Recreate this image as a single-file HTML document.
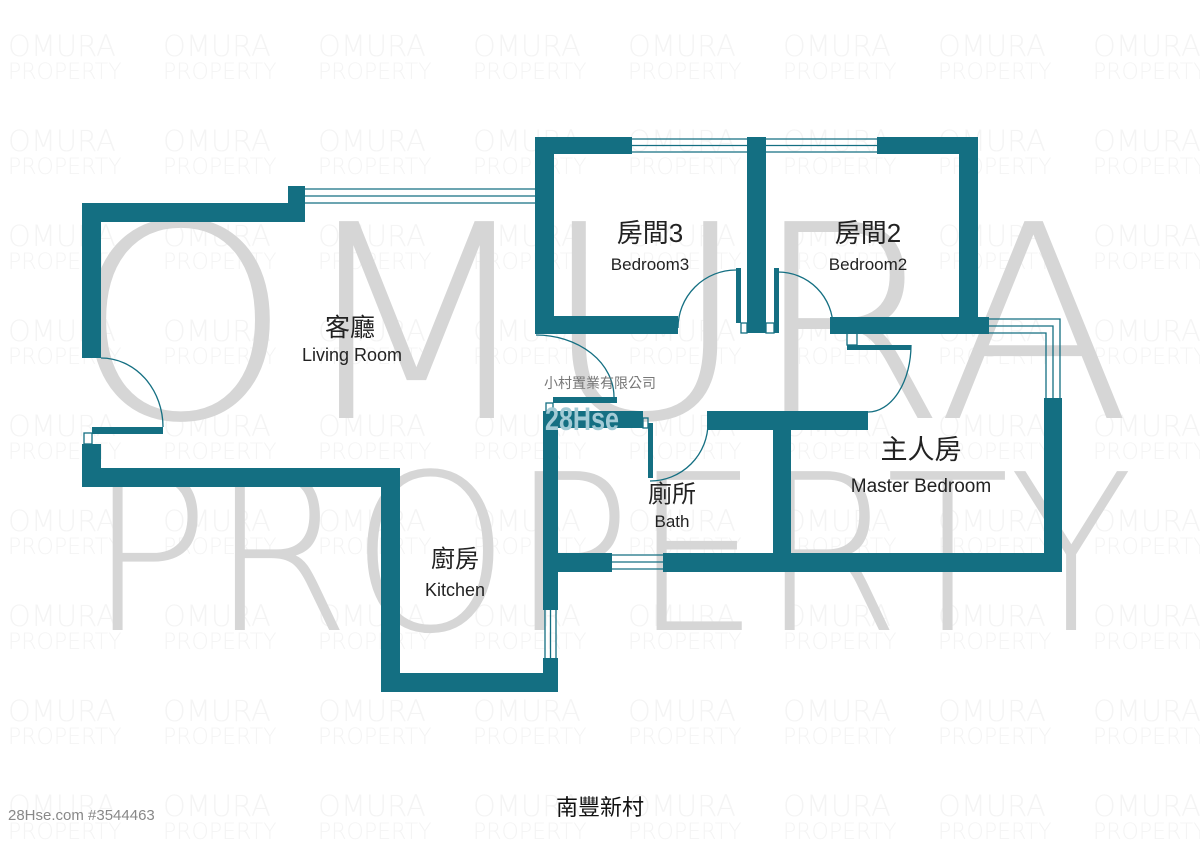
<!DOCTYPE html>
<html><head><meta charset="utf-8"><style>
html,body{margin:0;padding:0;background:#fff;}
svg{display:block;}
</style></head><body>
<svg width="1200" height="848" viewBox="0 0 1200 848" xmlns="http://www.w3.org/2000/svg">
<rect width="1200" height="848" fill="#fff"/>
<g font-family="'DejaVu Sans','Liberation Sans',sans-serif" font-weight="200" fill="#f4f4f4">
<g id="col">
<text x="8" y="56" font-size="29">OMURA</text><text x="8" y="79" font-size="22">PROPERTY</text>
<text x="8" y="151" font-size="29">OMURA</text><text x="8" y="174" font-size="22">PROPERTY</text>
<text x="8" y="246" font-size="29">OMURA</text><text x="8" y="269" font-size="22">PROPERTY</text>
<text x="8" y="341" font-size="29">OMURA</text><text x="8" y="364" font-size="22">PROPERTY</text>
<text x="8" y="436" font-size="29">OMURA</text><text x="8" y="459" font-size="22">PROPERTY</text>
<text x="8" y="531" font-size="29">OMURA</text><text x="8" y="554" font-size="22">PROPERTY</text>
<text x="8" y="626" font-size="29">OMURA</text><text x="8" y="649" font-size="22">PROPERTY</text>
<text x="8" y="721" font-size="29">OMURA</text><text x="8" y="744" font-size="22">PROPERTY</text>
<text x="8" y="816" font-size="29">OMURA</text><text x="8" y="839" font-size="22">PROPERTY</text>
</g>
<use href="#col" x="155"/><use href="#col" x="310"/><use href="#col" x="465"/><use href="#col" x="620"/><use href="#col" x="775"/><use href="#col" x="930"/><use href="#col" x="1085"/>
</g>
<g font-family="'DejaVu Sans','Liberation Sans',sans-serif" font-weight="200" fill="#d6d6d6">
<text x="68" y="418" font-size="270" textLength="1064" lengthAdjust="spacingAndGlyphs">OMURA</text>
<text x="88" y="630" font-size="218" textLength="1045" lengthAdjust="spacingAndGlyphs">PROPERTY</text>
</g>
<g fill="#146f82">
<rect x="82" y="203" width="223" height="19"/>
<rect x="288" y="186" width="17" height="36"/>
<rect x="82" y="203" width="19" height="155"/>
<rect x="82" y="444" width="19" height="43"/>
<rect x="82" y="468" width="318" height="19"/>
<rect x="381" y="468" width="19" height="224"/>
<rect x="381" y="673" width="177" height="19"/>
<rect x="543" y="658" width="15" height="34"/>
<rect x="543" y="411" width="15" height="199"/>
<rect x="543" y="411" width="100" height="17"/>
<rect x="707" y="411" width="161" height="19"/>
<rect x="773" y="411" width="18" height="161"/>
<rect x="543" y="553" width="69" height="19"/>
<rect x="663" y="553" width="399" height="19"/>
<rect x="1044" y="398" width="18" height="174"/>
<rect x="535" y="137" width="19" height="197"/>
<rect x="535" y="137" width="97" height="17"/>
<rect x="535" y="316" width="143" height="18"/>
<rect x="747" y="137" width="19" height="196"/>
<rect x="736" y="268" width="5" height="55"/>
<rect x="774" y="268" width="5" height="65"/>
<rect x="877" y="137" width="101" height="17"/>
<rect x="959" y="137" width="19" height="196"/>
<rect x="830" y="317" width="159" height="17"/>
<rect x="553" y="397" width="64" height="6"/>
<rect x="847" y="345" width="64" height="5"/>
<rect x="648" y="423" width="5" height="55"/>
</g>
<g fill="none" stroke="#146f82" stroke-width="1.3">
<path d="M305 189H535M305 196H535M305 203H535"/>
<path d="M632 139H747M632 145.5H747M632 152H747"/>
<path d="M766 139H877M766 145.5H877M766 152H877"/>
<path d="M989 319H1060V398M989 326H1053V398M989 333H1046V398"/>
<path d="M612 555H663M612 562H663M612 569H663"/>
<path d="M545 610V658M550.5 610V658M556 610V658"/>
<rect x="84" y="433" width="8" height="11"/>
<rect x="546" y="403" width="7" height="8"/>
<rect x="643" y="418" width="5" height="10"/>
<rect x="741" y="323" width="6" height="10"/>
<rect x="766" y="323" width="8" height="10"/>
<rect x="847" y="333" width="10" height="12"/>
<path d="M101 358A62 69 0 0 1 163 427"/>
<path d="M536 335A78 62 0 0 1 614 397"/>
<path d="M736 270A58 58 0 0 0 678 328"/>
<path d="M778 272A55 55 0 0 1 833 327"/>
<path d="M911 345A43 67 0 0 1 868 412"/>
<path d="M708 423A58 58 0 0 1 650 481"/>
</g>
<rect x="92" y="427" width="71" height="7" fill="#146f82"/>
<text x="545" y="430" font-family="'Liberation Sans',sans-serif" font-weight="bold" font-size="32" fill="#a3cbd6" textLength="74" lengthAdjust="spacingAndGlyphs">28Hse</text>
<g font-family="'Liberation Sans','Noto Sans CJK TC',sans-serif" fill="#222" text-anchor="middle">
<text x="350" y="336" font-size="25">客廳</text>
<text x="352" y="361" font-size="18">Living Room</text>
<text x="650" y="242" font-size="26">房間3</text>
<text x="650" y="270" font-size="17">Bedroom3</text>
<text x="868" y="242" font-size="26">房間2</text>
<text x="868" y="270" font-size="17">Bedroom2</text>
<text x="921" y="459" font-size="27">主人房</text>
<text x="921" y="492" font-size="19">Master Bedroom</text>
<text x="672" y="502" font-size="24">廁所</text>
<text x="672" y="527" font-size="17">Bath</text>
<text x="455" y="567" font-size="24">廚房</text>
<text x="455" y="596" font-size="18">Kitchen</text>
<text x="600" y="388" font-size="14" fill="#777">小村置業有限公司</text>
<text x="600" y="815" font-size="22" fill="#111">南豐新村</text>
</g>
<text x="8" y="820" font-family="'Liberation Sans',sans-serif" font-size="15" fill="#888">28Hse.com #3544463</text>
</svg>
</body></html>
